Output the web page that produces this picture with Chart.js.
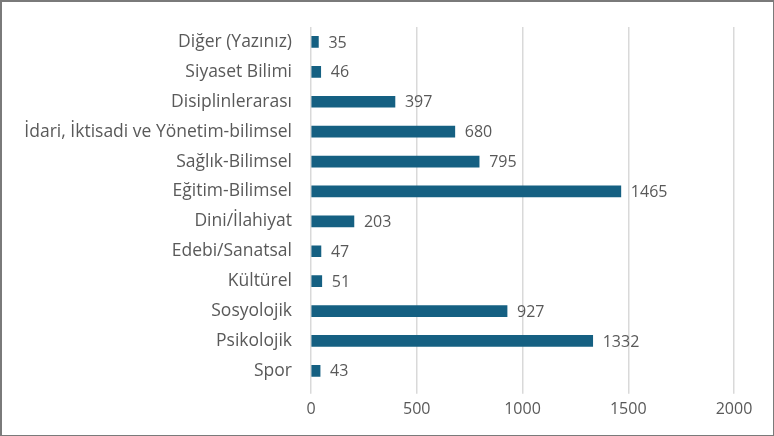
<!DOCTYPE html>
<html>
<head>
<meta charset="utf-8">
<script src="https://cdn.jsdelivr.net/npm/chart.js@4"></script>
<style>
  html, body { margin: 0; padding: 0; background: #fff; }
  #wrap {
    width: 774px; height: 436px; box-sizing: border-box;
    border: 1px solid #7a7a7a; border-top-width: 2px; border-left-width: 2px;
  }
</style>
</head>
<body>
<div id="wrap"><canvas id="chart"></canvas></div>
<script>
// Categories, top to bottom
const categories = [
    'Diğer (Yazınız)',
    'Siyaset Bilimi',
    'Disiplinlerarası',
    'İdari, İktisadi ve Yönetim-bilimsel',
    'Sağlık-Bilimsel',
    'Eğitim-Bilimsel',
    'Dini/İlahiyat',
    'Edebi/Sanatsal',
    'Kültürel',
    'Sosyolojik',
    'Psikolojik',
    'Spor'
];
const counts = [35, 46, 397, 680, 795, 1465, 203, 47, 51, 927, 1332, 43];
const xTicks = [0, 500, 1000, 1500, 2000];

const barColor = '#156082';
const textColor = '#595959';
const fontFamily = "'Open Sans', 'Noto Sans', sans-serif";

// Draw the value next to the end of each bar
const valueLabels = {
    id: 'valueLabels',
    afterDatasetsDraw(chart) {
        const ctx = chart.ctx;
        const meta = chart.getDatasetMeta(0);
        ctx.save();
        ctx.font = '16px ' + fontFamily;
        ctx.fillStyle = textColor;
        ctx.textAlign = 'left';
        ctx.textBaseline = 'middle';
        meta.data.forEach((bar, i) => {
            ctx.fillText(String(counts[i]), bar.x + 10, bar.y + 1);
        });
        ctx.restore();
    }
};

const ctx = document.getElementById('chart').getContext('2d');
new Chart(ctx, {
    type: 'bar',
    data: {
        labels: categories,
        datasets: [{
            data: counts,
            backgroundColor: barColor,
            borderWidth: 0,
            barThickness: 11
        }]
    },
    options: {
        indexAxis: 'y',
        responsive: true,
        maintainAspectRatio: false,
        animation: false,
        layout: { padding: { top: 25, right: 39, bottom: 10, left: 0 } },
        plugins: {
            legend: { display: false },
            tooltip: { enabled: false }
        },
        scales: {
            x: {
                min: 0,
                max: 2000,
                afterBuildTicks: axis => { axis.ticks = xTicks.map(v => ({ value: v })); },
                grid: { color: '#d9d9d9', lineWidth: 1.5, drawTicks: true, tickLength: 8 },
                border: { display: false },
                ticks: {
                    color: textColor,
                    font: { size: 16, family: fontFamily },
                    padding: 6,
                    callback: v => String(v)
                }
            },
            y: {
                grid: { display: false },
                border: { display: false },
                afterFit: axis => { axis.width = 309; },
                ticks: { color: textColor, font: { size: 17.5, family: fontFamily }, padding: 11 }
            }
        }
    },
    plugins: [valueLabels]
});
</script>
</body>
</html>
